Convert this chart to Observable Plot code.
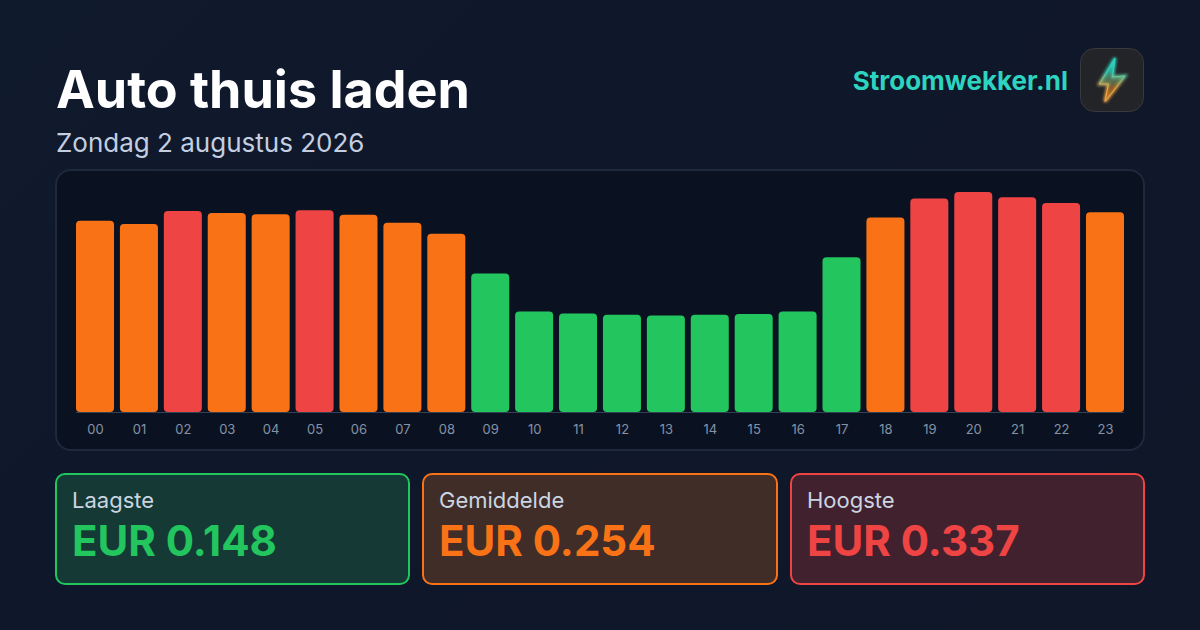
<!doctype html>
<html lang="nl"><head><meta charset="utf-8">
<script src="https://cdn.jsdelivr.net/npm/d3@7"></script>
<script src="https://cdn.jsdelivr.net/npm/@observablehq/plot@0.6"></script>
<style>
html,body{margin:0;padding:0;width:1200px;height:630px;overflow:hidden;background:#0f172a;font-family:Inter,sans-serif}
#page{position:relative;width:1200px;height:630px;background:linear-gradient(135deg,#0f1a2c 0%,#0f172a 50%,#0f1729 100%);}
#title{position:absolute;left:56px;top:59px;font-size:52px;line-height:62px;font-weight:700;color:#fff;letter-spacing:0}
#sub{position:absolute;left:56px;top:126px;font-size:26px;line-height:34px;color:#c3cee0}
#brand{position:absolute;right:132px;top:64px;font-size:26px;line-height:34px;font-weight:700;color:#2dd4bf}
#logo{position:absolute;left:1080px;top:48px;width:64px;height:64px}
#panel{position:absolute;left:55px;top:169px;width:1090px;height:282px;box-sizing:border-box;border:2px solid #1e293b;border-radius:16px;background:#0a1221}
#chart{position:absolute;left:56px;top:170px;width:1088px;height:280px}
#chart svg{display:block;background:transparent}
.card{position:absolute;top:473px;height:112px;box-sizing:border-box;border:2px solid;border-radius:10px}
.card .l{position:absolute;left:15px;top:12px;font-size:22px;line-height:26px;color:#cbd5e1}
.card .v{position:absolute;left:15px;top:40px;font-size:42px;line-height:52px;font-weight:700}
</style></head><body><div id="page">
<div id="title"></div><div id="sub"></div><div id="brand"></div>
<svg id="logo" viewBox="0 0 64 64">
<defs><linearGradient id="g" x1="0.5" y1="0" x2="0.5" y2="1"><stop offset="0.3" stop-color="#2dd4bf"/><stop offset="0.7" stop-color="#f5a742"/></linearGradient>
<linearGradient id="gf" x1="0.5" y1="0" x2="0.5" y2="1"><stop offset="0.3" stop-color="#2dd4bf" stop-opacity=".6"/><stop offset="0.7" stop-color="#a86a20" stop-opacity=".65"/></linearGradient>
<filter id="b" x="-50%" y="-50%" width="200%" height="200%"><feGaussianBlur stdDeviation="1.5"/></filter></defs>
<rect x=".5" y=".5" width="63" height="63" rx="14" fill="#232427" stroke="#37393d" stroke-width="1"/>
<path d="M35 10 L19.5 36 L28.5 36 L25 53.5 L45 28 L32.5 29 Z" fill="none" stroke="url(#g)" stroke-width="3" filter="url(#b)"/>
<path d="M35 10 L19.5 36 L28.5 36 L25 53.5 L45 28 L32.5 29 Z" fill="url(#gf)" stroke="url(#g)" stroke-width="1" stroke-linejoin="round"/>
</svg>
<div id="panel"></div><div id="chart"></div>
<div id="cards"></div></div>
<script>
const title = "Auto thuis laden";
const subtitle = "Zondag 2 augustus 2026";
const brand = "Stroomwekker.nl";
const hours = ["00","01","02","03","04","05","06","07","08","09","10","11","12","13","14","15","16","17","18","19","20","21","22","23"];
const prices = [0.293,0.288,0.308,0.305,0.303,0.309,0.302,0.290,0.273,0.212,0.154,0.151,0.149,0.148,0.149,0.150,0.154,0.237,0.298,0.327,0.337,0.329,0.320,0.306];
const levels = ["mid","mid","high","mid","mid","high","mid","mid","mid","low","low","low","low","low","low","low","low","low","mid","high","high","high","high","mid"];
const levelNames = ["low","mid","high"];
const levelColors = ["#22c55e","#f97316","#ef4444"];
const cardLabels = ["Laagste","Gemiddelde","Hoogste"];
const cardValues = ["EUR 0.148","EUR 0.254","EUR 0.337"];
const cardLefts = [55,422,790];
const cardWidths = [355,356,355];
const cardFills = ["#153a35","#402d28","#42212e"];
const cardBorders = ["#22c55e","#f97316","#ef4444"];

document.getElementById("title").textContent = title;
document.getElementById("sub").textContent = subtitle;
document.getElementById("brand").textContent = brand;

const rows = hours.map((h,i)=>({hour:h,price:prices[i],level:levels[i]}));
const plot = Plot.plot({
  width:1088,height:280,marginLeft:20,marginRight:20,marginTop:22,marginBottom:38,
  style:{background:"transparent",fontFamily:"Inter, sans-serif"},
  x:{domain:hours,paddingInner:0.134,paddingOuter:0,round:false,label:null},
  y:{domain:[0,0.337],axis:null},
  color:{domain:levelNames,range:levelColors},
  marks:[
    Plot.ruleY([0],{stroke:"#334155",strokeWidth:1}),
    Plot.barY(rows,{x:"hour",y:"price",fill:"level",rx:4}),
    Plot.axisX({tickSize:0,tickPadding:12,fontSize:13,fill:"#8592a6",label:null})
  ]
});
document.getElementById("chart").appendChild(plot);

const cards = document.getElementById("cards");
cardLabels.forEach((t,i)=>{
  const c=document.createElement("div");c.className="card";
  c.style.left=cardLefts[i]+"px";c.style.width=cardWidths[i]+"px";
  c.style.background=cardFills[i];c.style.borderColor=cardBorders[i];
  const l=document.createElement("div");l.className="l";l.textContent=t;
  const v=document.createElement("div");v.className="v";v.textContent=cardValues[i];v.style.color=cardBorders[i];
  c.append(l,v);cards.appendChild(c);
});
</script></body></html>
